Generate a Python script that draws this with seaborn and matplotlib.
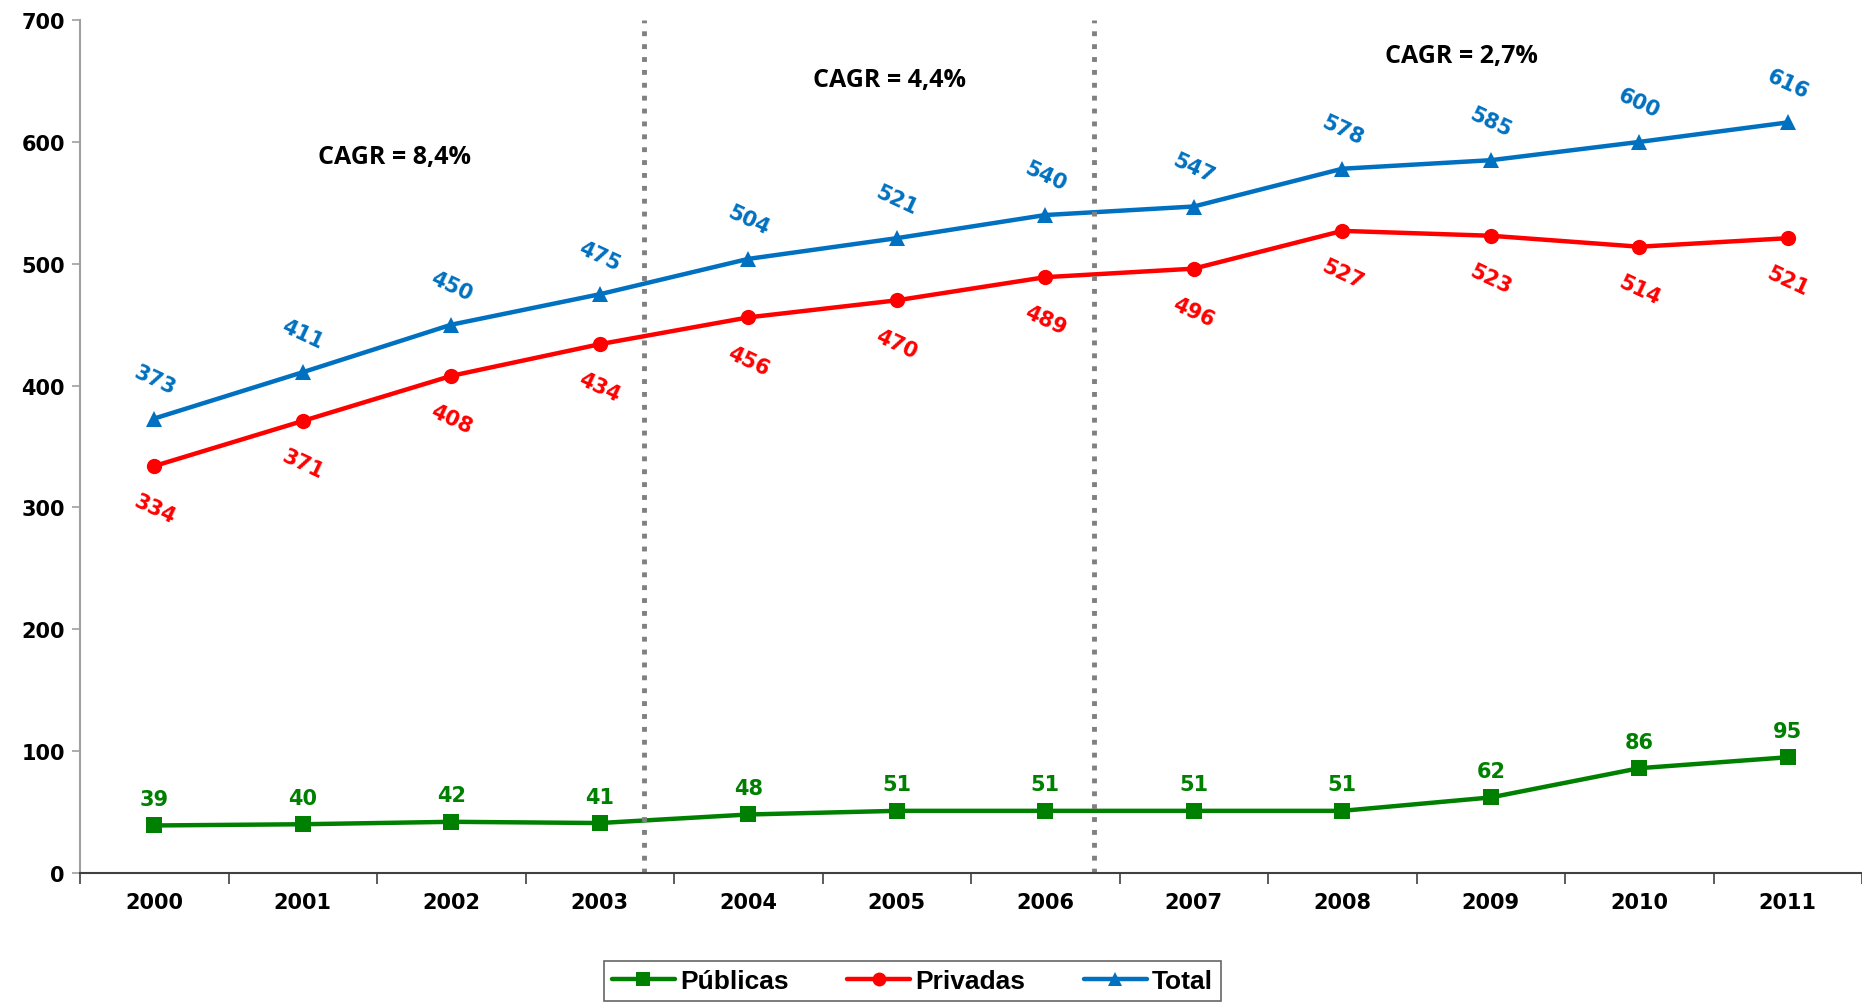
import pandas as pd
import matplotlib
matplotlib.use('Agg')
import matplotlib.pyplot as plt
import seaborn as sns

# dados do gráfico
anos = ['2000', '2001', '2002', '2003', '2004', '2005', '2006', '2007', '2008', '2009', '2010', '2011']
publicas = [39, 40, 42, 41, 48, 51, 51, 51, 51, 62, 86, 95]
privadas = [334, 371, 408, 434, 456, 470, 489, 496, 527, 523, 514, 521]
total = [373, 411, 450, 475, 504, 521, 540, 547, 578, 585, 600, 616]
series = ['Públicas', 'Privadas', 'Total']
cagr_textos = ['CAGR = 8,4%', 'CAGR = 4,4%', 'CAGR = 2,7%']

cores = {'Públicas': '#008000', 'Privadas': '#FF0000', 'Total': '#0070C0'}
marcadores = {'Públicas': 's', 'Privadas': 'o', 'Total': '^'}

df = pd.DataFrame({
    'idx': list(range(len(anos))) * 3,
    'valor': publicas + privadas + total,
    'serie': [s for s in series for _ in anos],
})

sns.set_style('white')
plt.rcParams['font.family'] = ['Liberation Sans', 'DejaVu Sans']
plt.rcParams['text.color'] = 'black'
plt.rcParams['xtick.labelcolor'] = 'black'
plt.rcParams['ytick.labelcolor'] = 'black'

fig = plt.figure(figsize=(18.62, 10.04), dpi=100)
ax = fig.add_axes([0.043, 0.1295, 0.957, 0.8495])

sns.lineplot(data=df, x='idx', y='valor', hue='serie', style='serie',
             palette=cores, markers=marcadores, dashes=False, linewidth=3.2,
             markersize=11, markeredgewidth=0, ax=ax, legend=False)

# rótulos dos valores
for i in range(len(anos)):
    ax.annotate(str(total[i]), (i, total[i]), xytext=(0, 28), textcoords='offset points',
                ha='center', va='center', rotation=-25, color=cores['Total'],
                fontsize=15, fontweight='bold', family='DejaVu Sans')
    ax.annotate(str(privadas[i]), (i, privadas[i]), xytext=(0, -31), textcoords='offset points',
                ha='center', va='center', rotation=-25, color=cores['Privadas'],
                fontsize=15, fontweight='bold', family='DejaVu Sans')
    ax.annotate(str(publicas[i]), (i, publicas[i]), xytext=(0, 19), textcoords='offset points',
                ha='center', va='center', color=cores['Públicas'],
                fontsize=15, fontweight='bold', family='DejaVu Sans')

# separadores dos períodos
for xv in [3.3, 6.33]:
    ax.axvline(xv, color='#808080', linestyle=':', linewidth=3.5)

ax.text(1.62, 588, cagr_textos[0], ha='center', va='center', fontsize=18, fontweight='bold', family='Open Sans')
ax.text(4.95, 651, cagr_textos[1], ha='center', va='center', fontsize=18, fontweight='bold', family='Open Sans')
ax.text(8.8, 671, cagr_textos[2], ha='center', va='center', fontsize=18, fontweight='bold', family='Open Sans')

ax.set_xlim(-0.5, 11.5)
ax.set_ylim(0, 700)
ax.set_yticks(range(0, 701, 100))
ax.set_xticks(range(len(anos)))
ax.set_xticklabels(anos)
ax.set_xticks([i - 0.5 for i in range(len(anos) + 1)], minor=True)
ax.tick_params(axis='x', which='major', length=0, pad=14, labelsize=15)
ax.tick_params(axis='x', which='minor', length=8, width=1.2, color='#404040', direction='out', bottom=True)
ax.tick_params(axis='y', length=6, width=1.2, color='#a0a0a0', direction='out', left=True, pad=5, labelsize=15)
for lbl in ax.get_xticklabels() + ax.get_yticklabels():
    lbl.set_fontweight('bold')
    lbl.set_family('DejaVu Sans')
    lbl.set_color('black')
ax.set_xlabel('')
ax.set_ylabel('')

for lado in ['top', 'right']:
    ax.spines[lado].set_visible(False)
ax.spines['left'].set_color('#a0a0a0')
ax.spines['left'].set_linewidth(1.5)
ax.spines['bottom'].set_color('#404040')
ax.spines['bottom'].set_linewidth(1.5)

handles = [plt.Line2D([], [], color=cores[s], marker=marcadores[s], linewidth=3.2,
                      markersize=10, markeredgewidth=0) for s in series]
leg = fig.legend(handles, series, loc='upper center', bbox_to_anchor=(0.49, 0.055), ncol=3,
                 frameon=True, fancybox=False, edgecolor='#404040',
                 handlelength=2.4, columnspacing=2.2, handletextpad=0.2,
                 borderpad=0.3, prop={'weight': 'bold', 'size': 19})
leg.get_frame().set_linewidth(1.2)
for t in leg.get_texts():
    t.set_color('black')

fig.savefig('out.png', dpi=100)
